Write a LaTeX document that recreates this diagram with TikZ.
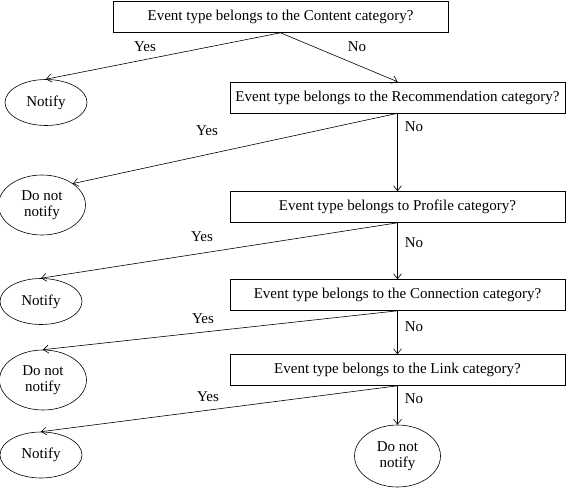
\documentclass[tikz,border=0pt]{standalone}
\usepackage{fontspec}
\setmainfont{Liberation Serif}
\usetikzlibrary{arrows.meta,shapes.geometric}
\begin{document}
\begin{tikzpicture}[
x=1pt, y=-1pt, line width=0.6pt,
font=\fontsize{15}{16.5}\selectfont,
>={Straight Barb[length=5pt,width=8pt]},
test/.style={draw, rectangle, minimum width=335pt, minimum height=31pt, inner sep=0pt},
leaf/.style={draw, ellipse, minimum width=82pt, minimum height=46pt, inner sep=0pt},
leaftwo/.style={draw, ellipse, align=center, minimum width=87pt, minimum height=60pt, inner sep=0pt}
]
\useasboundingbox (0,0) rectangle (568,488);

\node[test] (q1) at (280.5,17) {Event type belongs to the Content category?};
\node[test] (q2) at (397.5,97.5) {Event type belongs to the Recommendation category?};
\node[test] (q3) at (397.5,207) {Event type belongs to Profile category?};
\node[test] (q4) at (397.5,295) {Event type belongs to the Connection category?};
\node[test] (q5) at (397.5,370) {Event type belongs to the Link category?};

\node[leaf] (n1) at (46,102.5) {Notify};
\node[leaftwo] (dn1) at (42,205) {Do not\\notify};
\node[leaf] (n2) at (41,301.5) {Notify};
\node[leaftwo] (dn2) at (43,380) {Do not\\notify};
\node[leaf] (n3) at (41,455) {Notify};
\node[leaftwo, minimum width=86pt, minimum height=62pt] (dn3) at (397.5,456) {Do not\\notify};

\draw[->] (q1.south) -- (n1.north);
\draw[->] (q1.south) -- (q2.north);
\draw[->] (q2.south) -- (dn1.north east);
\draw[->] (q2.south) -- (q3.north);
\draw[->] (q3.south) -- (n2.north);
\draw[->] (q3.south) -- (q4.north);
\draw[->] (q4.south) -- (dn2.north);
\draw[->] (q4.south) -- (q5.north);
\draw[->] (q5.south) -- (n3.north);
\draw[->] (q5.south) -- (dn3.north);

\node (yes1) at (145,47) {Yes};
\node (no1) at (357,47) {No};
\node (yes2) at (207,131) {Yes};
\node (no2) at (414,127) {No};
\node (yes3) at (202,237) {Yes};
\node (no3) at (414,243) {No};
\node (yes4) at (203,319) {Yes};
\node (no4) at (414,327) {No};
\node (yes5) at (208,397) {Yes};
\node (no5) at (414,399) {No};
\end{tikzpicture}
\end{document}
